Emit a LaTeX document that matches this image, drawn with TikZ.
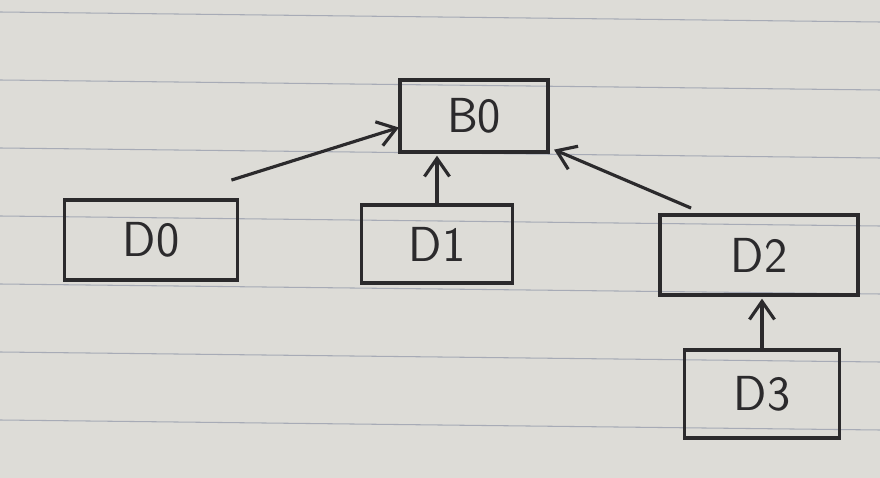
\documentclass[tikz,border=0pt]{standalone}
\usepackage{tikz}
\usetikzlibrary{arrows,arrows.meta,backgrounds,calc}
\definecolor{paper}{HTML}{DDDCD7}
\definecolor{rule}{HTML}{A7ABB6}
\definecolor{ink}{HTML}{2B2A2C}
\tikzset{
  blk/.style={draw=ink, line width=2.2pt, minimum width=#1, minimum height=1.6cm, inner sep=0pt,
    font=\sffamily\fontsize{28}{28}\selectfont, text=ink},
  blk/.default=3cm,
  lnk/.style={draw=ink, line width=1.8pt, -{Straight Barb[length=0.36cm,width=0.5cm]}, shorten >=1pt}
}

\begin{document}
\begin{tikzpicture}
\useasboundingbox (0cm,0cm) rectangle (17.6cm,-9.56cm);
\fill[paper] (0cm,0cm) rectangle (17.6cm,-9.56cm);
\foreach \y in {0.24,1.6,2.96,4.32,5.68,7.04,8.4}
  \draw[rule, line width=0.6pt] (0cm,-\y cm) -- (17.6cm,-\y cm-0.2cm);
\node[blk=2.96cm, minimum height=1.44cm] (B0) at (9.48cm,-2.32cm) {B0};
\node[blk=3.46cm] (D0) at (3.02cm,-4.8cm) {D0};
\node[blk=3.02cm, minimum height=1.56cm] (D1) at (8.74cm,-4.88cm) {D1};
\node[blk=3.96cm] (D2) at (15.18cm,-5.1cm) {D2};
\node[blk=3.1cm, minimum height=1.76cm] (D3) at (15.24cm,-7.88cm) {D3};
\draw[lnk] ($(D0.north east)+(-0.16cm,0.36cm)$) -- ($(B0.west)+(0.05cm,-0.22cm)$);
\draw[lnk] (D1.north) -- (D1.north |- B0.south);
\draw[lnk] ($(D2.north west)+(0.66cm,0.1cm)$) -- ($(B0.south east)+(0.05cm,0.1cm)$);
\draw[lnk] (D3.north) -- (D3.north |- D2.south);
\end{tikzpicture}
\end{document}
